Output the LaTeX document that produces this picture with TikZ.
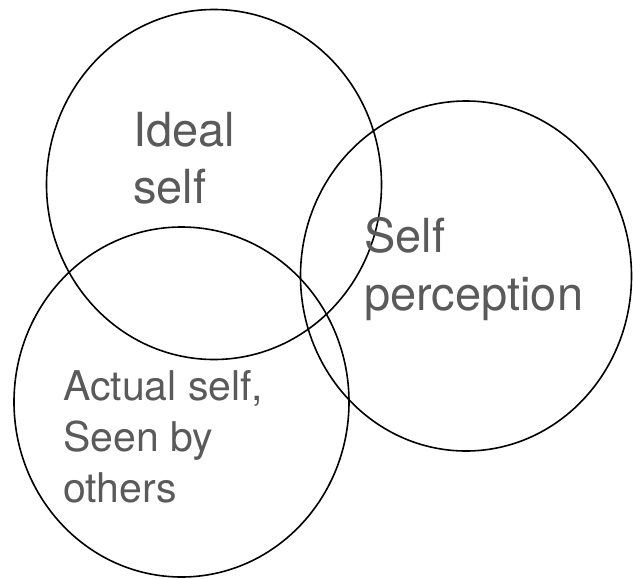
\documentclass[tikz,border=0pt]{standalone}
\usepackage{fontspec}
\setmainfont{TeX Gyre Heros}
\usetikzlibrary{shapes.geometric}
\definecolor{labelgray}{HTML}{5A5A5A}
\tikzset{
  setring/.style={ellipse, draw=black, line width=1.6pt, inner sep=0pt,
    minimum width=335pt, minimum height=350pt},
  biglabel/.style={anchor=base west, align=left, text=labelgray, inner sep=0pt,
    font=\fontsize{47}{57}\selectfont},
  smalllabel/.style={anchor=base west, align=left, text=labelgray, inner sep=0pt,
    font=\fontsize{41}{51}\selectfont}
}
\begin{document}
\begin{tikzpicture}[x=1pt,y=-1pt]
\useasboundingbox (0,0) rectangle (633,579);
\node[setring] (ideal) at (214,184.5) {};
\node[setring, minimum width=331pt] (perc) at (466,276) {};
\node[setring] (actual) at (181.5,402) {};
\node[biglabel] (idealtxt) at (133,203) {Ideal\\self};
\node[biglabel, font=\fontsize{47}{58}\selectfont] (perctxt) at (364,310) {Self\\perception};
\node[smalllabel] (actualtxt) at (63,502) {Actual self,\\Seen by\\others};
\end{tikzpicture}
\end{document}
